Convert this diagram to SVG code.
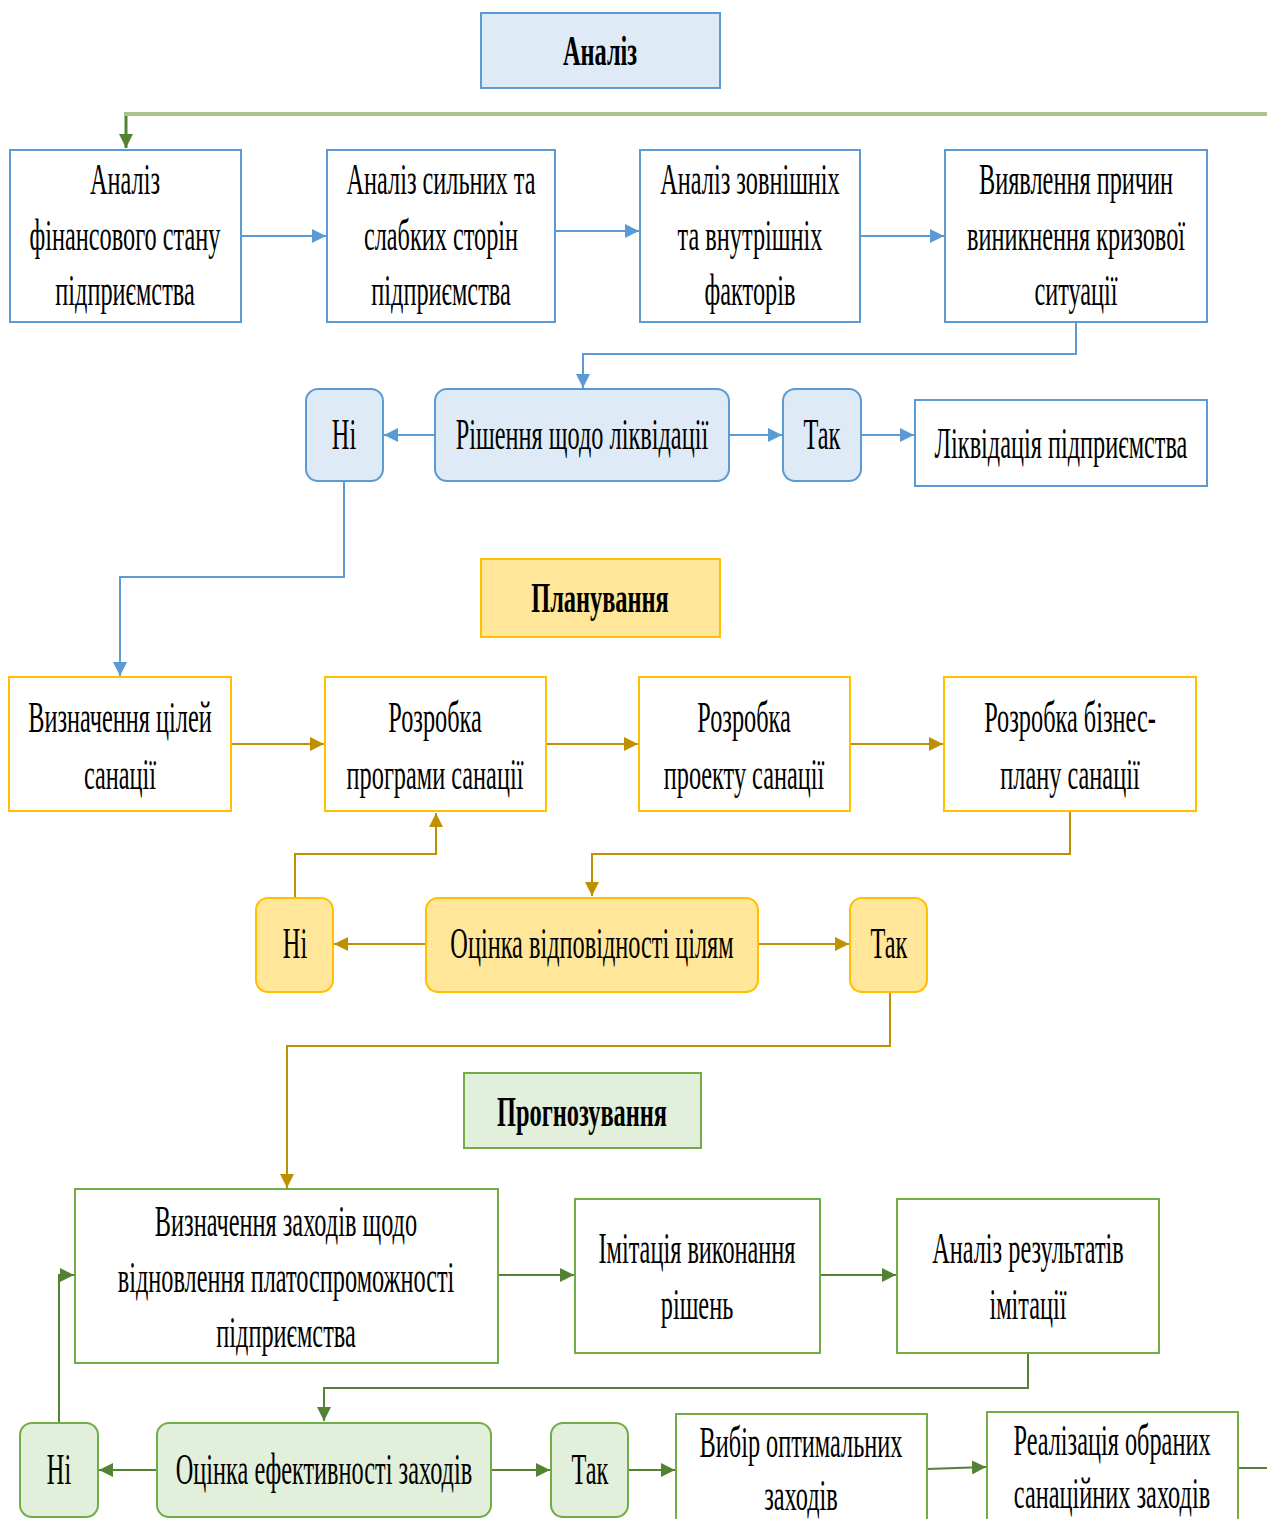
<svg xmlns="http://www.w3.org/2000/svg" width="1267" height="1519" viewBox="0 0 1267 1519">
<defs>
<style>
.t{font-family:"Liberation Serif","Times New Roman",serif;font-size:45px;fill:#000;text-anchor:middle}
.b{font-weight:bold;font-size:42px}
.bn{fill:#fff;stroke:#5B9BD5;stroke-width:2}
.bf{fill:#DEEBF7;stroke:#5B9BD5;stroke-width:2}
.yn{fill:#fff;stroke:#FFC000;stroke-width:2}
.yf{fill:#FFE699;stroke:#FFC000;stroke-width:2}
.gn{fill:#fff;stroke:#70AD47;stroke-width:2}
.gf{fill:#E2EFDA;stroke:#70AD47;stroke-width:2}
.cb{fill:none;stroke:#5B9BD5;stroke-width:2}
.cy{fill:none;stroke:#BF9000;stroke-width:2}
.cg{fill:none;stroke:#548235;stroke-width:2}
</style>
<marker id="ab" viewBox="0 0 12 12" refX="12" refY="6" markerWidth="14" markerHeight="14" markerUnits="userSpaceOnUse" orient="auto"><path d="M0,0L12,6L0,12z" fill="#5B9BD5"/></marker>
<marker id="ay" viewBox="0 0 12 12" refX="12" refY="6" markerWidth="14" markerHeight="14" markerUnits="userSpaceOnUse" orient="auto"><path d="M0,0L12,6L0,12z" fill="#BF9000"/></marker>
<marker id="ag" viewBox="0 0 12 12" refX="12" refY="6" markerWidth="14" markerHeight="14" markerUnits="userSpaceOnUse" orient="auto"><path d="M0,0L12,6L0,12z" fill="#548235"/></marker>
</defs>
<rect width="1267" height="1519" fill="#fff"/>

<g id="connectors">
<path d="M1267,114H126V148" fill="none" stroke="#A9C48E" stroke-width="4"/>
<path d="M126,116V148" class="cg" marker-end="url(#ag)"/>
<path d="M241,236H326" class="cb" marker-end="url(#ab)"/>
<path d="M555,231H639" class="cb" marker-end="url(#ab)"/>
<path d="M860,236H944" class="cb" marker-end="url(#ab)"/>
<path d="M1076,322V354H583V388" class="cb" marker-end="url(#ab)"/>
<path d="M435,435H384" class="cb" marker-end="url(#ab)"/>
<path d="M729,435H782" class="cb" marker-end="url(#ab)"/>
<path d="M861,435H914" class="cb" marker-end="url(#ab)"/>
<path d="M344,481V577H120V676" class="cb" marker-end="url(#ab)"/>

<path d="M231,744H324" class="cy" marker-end="url(#ay)"/>
<path d="M546,744H638" class="cy" marker-end="url(#ay)"/>
<path d="M850,744H943" class="cy" marker-end="url(#ay)"/>
<path d="M1070,811V854H592V896" class="cy" marker-end="url(#ay)"/>
<path d="M426,944H334" class="cy" marker-end="url(#ay)"/>
<path d="M758,944H849" class="cy" marker-end="url(#ay)"/>
<path d="M295,898V854H436V813" class="cy" marker-end="url(#ay)"/>
<path d="M890,992V1046H287V1188" class="cy" marker-end="url(#ay)"/>

<path d="M498,1275H574" class="cg" marker-end="url(#ag)"/>
<path d="M820,1275H896" class="cg" marker-end="url(#ag)"/>
<path d="M1028,1353V1388H324V1421" class="cg" marker-end="url(#ag)"/>
<path d="M157,1470H99" class="cg" marker-end="url(#ag)"/>
<path d="M491,1470H550" class="cg" marker-end="url(#ag)"/>
<path d="M628,1470H675" class="cg" marker-end="url(#ag)"/>
<path d="M927,1469L986,1467" class="cg" marker-end="url(#ag)"/>
<path d="M1238,1468H1267" class="cg"/>
<path d="M59,1423V1275H74" class="cg" marker-end="url(#ag)"/>
</g>

<g id="title-analiz"><rect x="481" y="13" width="239" height="75" class="bf"/><text class="t b" transform="translate(600,65) scale(0.58,1)">Аналіз</text></g>
<g id="a1"><rect x="10" y="150" width="231" height="172" class="bn"/>
<text class="t" transform="translate(125,194) scale(0.54,1)">Аналіз</text>
<text class="t" transform="translate(125,250) scale(0.54,1)">фінансового стану</text>
<text class="t" transform="translate(125,305) scale(0.54,1)">підприємства</text></g>
<g id="a2"><rect x="327" y="150" width="228" height="172" class="bn"/>
<text class="t" transform="translate(441,194) scale(0.54,1)">Аналіз сильних та</text>
<text class="t" transform="translate(441,250) scale(0.54,1)">слабких сторін</text>
<text class="t" transform="translate(441,305) scale(0.54,1)">підприємства</text></g>
<g id="a3"><rect x="640" y="150" width="220" height="172" class="bn"/>
<text class="t" transform="translate(750,194) scale(0.54,1)">Аналіз зовнішніх</text>
<text class="t" transform="translate(750,250) scale(0.54,1)">та внутрішніх</text>
<text class="t" transform="translate(750,305) scale(0.54,1)">факторів</text></g>
<g id="a4"><rect x="945" y="150" width="262" height="172" class="bn"/>
<text class="t" transform="translate(1076,194) scale(0.54,1)">Виявлення причин</text>
<text class="t" transform="translate(1076,250) scale(0.54,1)">виникнення кризової</text>
<text class="t" transform="translate(1076,305) scale(0.54,1)">ситуації</text></g>
<g id="a-ni"><rect x="306" y="389" width="77" height="92" rx="12" class="bf"/><text class="t" transform="translate(344,449) scale(0.54,1)">Ні</text></g>
<g id="a-dec"><rect x="435" y="389" width="294" height="92" rx="12" class="bf"/><text class="t" transform="translate(582,449) scale(0.54,1)">Рішення щодо ліквідації</text></g>
<g id="a-tak"><rect x="783" y="389" width="78" height="92" rx="12" class="bf"/><text class="t" transform="translate(822,449) scale(0.54,1)">Так</text></g>
<g id="a-liq"><rect x="915" y="400" width="292" height="86" class="bn"/><text class="t" transform="translate(1061,458) scale(0.54,1)">Ліквідація підприємства</text></g>

<g id="title-plan"><rect x="481" y="559" width="239" height="78" class="yf"/><text class="t b" transform="translate(600,612) scale(0.58,1)">Планування</text></g>
<g id="p1"><rect x="9" y="677" width="222" height="134" class="yn"/>
<text class="t" transform="translate(120,732) scale(0.54,1)">Визначення цілей</text>
<text class="t" transform="translate(120,789) scale(0.54,1)">санації</text></g>
<g id="p2"><rect x="325" y="677" width="221" height="134" class="yn"/>
<text class="t" transform="translate(435,732) scale(0.54,1)">Розробка</text>
<text class="t" transform="translate(435,789) scale(0.54,1)">програми санації</text></g>
<g id="p3"><rect x="639" y="677" width="211" height="134" class="yn"/>
<text class="t" transform="translate(744,732) scale(0.54,1)">Розробка</text>
<text class="t" transform="translate(744,789) scale(0.54,1)">проекту санації</text></g>
<g id="p4"><rect x="944" y="677" width="252" height="134" class="yn"/>
<text class="t" transform="translate(1070,732) scale(0.54,1)">Розробка бізнес-</text>
<text class="t" transform="translate(1070,789) scale(0.54,1)">плану санації</text></g>
<g id="p-ni"><rect x="256" y="898" width="77" height="94" rx="12" class="yf"/><text class="t" transform="translate(295,958) scale(0.54,1)">Ні</text></g>
<g id="p-dec"><rect x="426" y="898" width="332" height="94" rx="12" class="yf"/><text class="t" transform="translate(592,958) scale(0.54,1)">Оцінка відповідності цілям</text></g>
<g id="p-tak"><rect x="850" y="898" width="77" height="94" rx="12" class="yf"/><text class="t" transform="translate(889,958) scale(0.54,1)">Так</text></g>

<g id="title-prog"><rect x="464" y="1073" width="237" height="75" class="gf"/><text class="t b" transform="translate(582,1126) scale(0.58,1)">Прогнозування</text></g>
<g id="f1"><rect x="75" y="1189" width="423" height="174" class="gn"/>
<text class="t" transform="translate(286,1236) scale(0.54,1)">Визначення заходів щодо</text>
<text class="t" transform="translate(286,1292) scale(0.54,1)">відновлення платоспроможності</text>
<text class="t" transform="translate(286,1347) scale(0.54,1)">підприємства</text></g>
<g id="f2"><rect x="575" y="1199" width="245" height="154" class="gn"/>
<text class="t" transform="translate(697,1263) scale(0.54,1)">Імітація виконання</text>
<text class="t" transform="translate(697,1319) scale(0.54,1)">рішень</text></g>
<g id="f3"><rect x="897" y="1199" width="262" height="154" class="gn"/>
<text class="t" transform="translate(1028,1263) scale(0.54,1)">Аналіз результатів</text>
<text class="t" transform="translate(1028,1319) scale(0.54,1)">імітації</text></g>
<g id="f-ni"><rect x="20" y="1423" width="78" height="94" rx="12" class="gf"/><text class="t" transform="translate(59,1484) scale(0.54,1)">Ні</text></g>
<g id="f-dec"><rect x="157" y="1423" width="334" height="94" rx="12" class="gf"/><text class="t" transform="translate(324,1484) scale(0.54,1)">Оцінка ефективності заходів</text></g>
<g id="f-tak"><rect x="551" y="1423" width="77" height="94" rx="12" class="gf"/><text class="t" transform="translate(590,1484) scale(0.54,1)">Так</text></g>
<g id="f4"><rect x="676" y="1414" width="251" height="120" class="gn"/>
<text class="t" transform="translate(801,1457) scale(0.54,1)">Вибір оптимальних</text>
<text class="t" transform="translate(801,1510) scale(0.54,1)">заходів</text></g>
<g id="f5"><rect x="987" y="1412" width="251" height="120" class="gn"/>
<text class="t" transform="translate(1112,1455) scale(0.54,1)">Реалізація обраних</text>
<text class="t" transform="translate(1112,1508) scale(0.54,1)">санаційних заходів</text></g>
</svg>
